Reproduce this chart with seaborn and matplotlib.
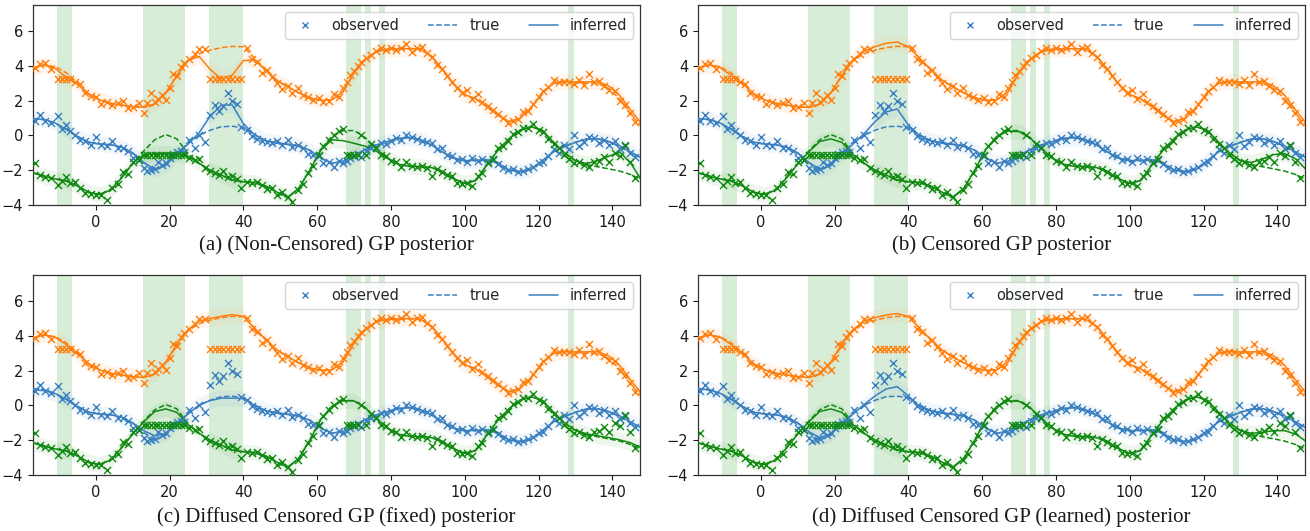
import numpy as np
import pandas as pd
import matplotlib
matplotlib.use("Agg")
import matplotlib.pyplot as plt
from matplotlib.lines import Line2D
import seaborn as sns

# ---------------- data ----------------
grid_x = [-17, -14, -11, -8, -5, -2, 1, 4, 7, 10, 13, 16, 19, 22, 25, 28, 31, 34, 37, 40,
          43, 46, 49, 52, 55, 58, 61, 64, 67, 70, 73, 76, 79, 82, 85, 88, 91, 94, 97, 100,
          103, 106, 109, 112, 115, 118, 121, 124, 127, 130, 133, 136, 139, 142, 145, 148]

orange_true = [3.88, 4.05, 3.95, 3.6, 3.05, 2.4, 2.05, 1.85, 1.75, 1.65,
               1.62, 1.8, 2.45, 3.45, 4.3, 4.7, 4.9, 5.05, 5.12, 5.1,
               4.45, 3.8, 3.2, 2.8, 2.45, 2.15, 2.02, 2.05, 2.5, 3.6,
               4.35, 4.82, 4.95, 4.95, 4.97, 4.95, 4.55, 3.8, 2.95, 2.35,
               2.1, 1.65, 1.15, 0.8, 0.97, 1.6, 2.45, 2.98, 3.1, 3.02,
               3.0, 3.0, 2.7, 2.1, 1.2, 0.5]
blue_true = [0.97, 0.9, 0.7, 0.35, -0.05, -0.38, -0.5, -0.53, -0.68, -1.0,
             -1.55, -2.0, -1.72, -1.05, -0.46, 0.0, 0.3, 0.5, 0.53, 0.44,
             0.05, -0.3, -0.45, -0.52, -0.62, -0.85, -1.3, -1.62, -1.48, -1.15,
             -0.82, -0.55, -0.35, -0.18, -0.12, -0.25, -0.55, -0.95, -1.33, -1.48,
             -1.43, -1.38, -1.55, -1.98, -2.09, -1.97, -1.5, -0.95, -0.62, -0.38,
             -0.2, -0.18, -0.35, -0.65, -1.0, -1.3]
green_true = [-2.15, -2.33, -2.5, -2.62, -2.9, -3.28, -3.4, -3.1, -2.4, -1.65,
              -0.9, -0.25, 0.05, -0.2, -1.05, -1.6, -2.0, -2.28, -2.57, -2.66,
              -2.72, -2.9, -3.25, -3.6, -3.05, -2.0, -0.8, -0.05, 0.28, 0.28,
              -0.12, -0.75, -1.3, -1.65, -1.78, -1.8, -1.85, -2.07, -2.5, -2.75,
              -2.6, -1.7, -0.85, -0.2, 0.3, 0.5, 0.3, -0.37, -1.0, -1.45,
              -1.68, -1.8, -1.92, -2.05, -2.25, -2.55]

# inferred posterior means, one per panel
orange_inf_a = [3.88, 4.05, 3.85, 3.35, 2.95, 2.4, 2.05, 1.85, 1.75, 1.65,
                1.62, 1.8, 2.45, 3.45, 4.3, 4.55, 3.8, 3.25, 3.46, 4.3,
                4.35, 3.75, 3.15, 2.8, 2.45, 2.15, 2.02, 2.05, 2.5, 3.6,
                4.35, 4.82, 4.95, 4.97, 5.0, 4.97, 4.55, 3.8, 2.95, 2.35,
                2.1, 1.65, 1.15, 0.8, 0.97, 1.6, 2.45, 3.0, 3.12, 3.08,
                3.08, 3.1, 2.85, 2.3, 1.45, 0.65]
orange_inf_b = [3.88, 4.05, 3.9, 3.45, 3.0, 2.4, 2.05, 1.85, 1.75, 1.65,
                1.6, 1.8, 2.45, 3.45, 4.35, 4.85, 5.1, 5.3, 5.37, 5.1,
                4.45, 3.8, 3.2, 2.8, 2.45, 2.15, 2.02, 2.05, 2.5, 3.6,
                4.35, 4.82, 4.95, 4.97, 5.0, 4.97, 4.55, 3.8, 2.95, 2.35,
                2.1, 1.65, 1.15, 0.8, 0.97, 1.6, 2.45, 3.0, 3.12, 3.08,
                3.08, 3.1, 2.85, 2.3, 1.45, 0.65]
orange_inf_c = [3.88, 4.05, 3.92, 3.5, 3.0, 2.4, 2.05, 1.85, 1.75, 1.65,
                1.6, 1.8, 2.5, 3.55, 4.35, 4.85, 5.0, 5.12, 5.22, 5.12,
                4.45, 3.8, 3.2, 2.8, 2.45, 2.15, 2.02, 2.05, 2.5, 3.6,
                4.35, 4.82, 4.95, 4.97, 5.0, 4.97, 4.55, 3.8, 2.95, 2.35,
                2.1, 1.65, 1.15, 0.8, 0.97, 1.6, 2.45, 3.0, 3.12, 3.08,
                3.08, 3.1, 2.85, 2.3, 1.45, 0.65]
orange_inf_d = [3.88, 4.05, 3.92, 3.5, 3.0, 2.4, 2.05, 1.85, 1.75, 1.65,
                1.6, 1.8, 2.5, 3.55, 4.35, 4.85, 5.05, 5.2, 5.28, 5.12,
                4.45, 3.8, 3.2, 2.8, 2.45, 2.15, 2.02, 2.05, 2.5, 3.6,
                4.35, 4.82, 4.95, 4.97, 5.0, 4.97, 4.55, 3.8, 2.95, 2.35,
                2.1, 1.65, 1.15, 0.8, 0.97, 1.6, 2.45, 3.0, 3.12, 3.08,
                3.08, 3.1, 2.85, 2.3, 1.45, 0.65]

blue_inf_a = [0.97, 0.92, 0.72, 0.35, -0.05, -0.38, -0.5, -0.53, -0.68, -1.0,
              -1.55, -1.95, -1.72, -1.05, -0.5, 0.15, 1.1, 1.74, 1.75, 0.68,
              0.05, -0.3, -0.42, -0.5, -0.6, -0.85, -1.3, -1.6, -1.48, -1.15,
              -0.82, -0.55, -0.35, -0.18, -0.12, -0.25, -0.55, -0.95, -1.3, -1.45,
              -1.43, -1.4, -1.6, -1.98, -2.07, -1.95, -1.45, -0.95, -0.65, -0.4,
              -0.22, -0.2, -0.35, -0.6, -0.95, -1.3]
blue_inf_b = [0.97, 0.92, 0.72, 0.35, -0.05, -0.38, -0.5, -0.53, -0.68, -1.0,
              -1.55, -1.95, -1.72, -1.05, -0.5, 0.1, 0.8, 1.35, 1.52, 0.6,
              0.0, -0.3, -0.42, -0.5, -0.6, -0.85, -1.3, -1.6, -1.48, -1.15,
              -0.82, -0.55, -0.35, -0.18, -0.12, -0.25, -0.55, -0.95, -1.3, -1.45,
              -1.43, -1.4, -1.6, -1.98, -2.07, -1.95, -1.45, -0.95, -0.65, -0.4,
              -0.22, -0.2, -0.35, -0.6, -0.95, -1.3]
blue_inf_c = [0.9, 0.85, 0.68, 0.35, -0.05, -0.38, -0.5, -0.53, -0.68, -1.0,
              -1.45, -1.75, -1.6, -1.05, -0.5, 0.02, 0.28, 0.42, 0.42, 0.4,
              0.0, -0.3, -0.42, -0.5, -0.6, -0.85, -1.3, -1.6, -1.48, -1.15,
              -0.82, -0.55, -0.35, -0.18, -0.12, -0.25, -0.55, -0.95, -1.3, -1.45,
              -1.43, -1.4, -1.6, -1.98, -2.07, -1.95, -1.45, -0.95, -0.65, -0.4,
              -0.22, -0.2, -0.35, -0.6, -0.95, -1.3]
blue_inf_d = [0.95, 0.9, 0.7, 0.35, -0.05, -0.38, -0.5, -0.53, -0.68, -1.0,
              -1.5, -1.85, -1.65, -1.05, -0.5, 0.05, 0.55, 0.95, 1.08, 0.55,
              -0.05, -0.3, -0.42, -0.5, -0.6, -0.85, -1.3, -1.6, -1.48, -1.15,
              -0.82, -0.55, -0.35, -0.18, -0.12, -0.25, -0.55, -0.95, -1.3, -1.45,
              -1.43, -1.4, -1.6, -1.98, -2.07, -1.95, -1.45, -0.95, -0.65, -0.4,
              -0.22, -0.2, -0.35, -0.6, -0.95, -1.3]

green_inf_a = [-2.15, -2.35, -2.5, -2.62, -2.9, -3.25, -3.4, -3.15, -2.45, -1.6,
               -1.1, -1.05, -1.03, -1.05, -1.2, -1.6, -2.0, -2.28, -2.57, -2.66,
               -2.72, -2.9, -3.25, -3.55, -3.05, -2.0, -0.85, -0.25, -0.3, -0.45,
               -0.62, -0.9, -1.3, -1.65, -1.78, -1.8, -1.85, -2.07, -2.5, -2.75,
               -2.6, -1.7, -0.85, -0.2, 0.3, 0.5, 0.3, -0.37, -1.0, -1.45,
               -1.62, -1.45, -1.2, -0.95, -1.6, -2.6]
green_inf_b = [-2.15, -2.35, -2.5, -2.62, -2.9, -3.25, -3.4, -3.15, -2.45, -1.65,
               -0.95, -0.35, -0.2, -0.4, -1.1, -1.6, -2.0, -2.28, -2.57, -2.66,
               -2.72, -2.9, -3.25, -3.55, -3.05, -2.0, -0.8, -0.05, 0.25, 0.22,
               -0.15, -0.75, -1.3, -1.65, -1.78, -1.8, -1.85, -2.07, -2.5, -2.75,
               -2.6, -1.7, -0.85, -0.2, 0.3, 0.5, 0.3, -0.37, -1.0, -1.45,
               -1.55, -1.35, -1.1, -1.05, -1.35, -2.0]
green_inf_c = [-2.15, -2.35, -2.5, -2.62, -2.9, -3.25, -3.4, -3.15, -2.45, -1.65,
               -0.95, -0.35, -0.2, -0.4, -1.1, -1.6, -2.0, -2.28, -2.57, -2.66,
               -2.72, -2.9, -3.25, -3.55, -3.05, -2.0, -0.8, -0.05, 0.28, 0.26,
               -0.12, -0.75, -1.3, -1.65, -1.78, -1.8, -1.85, -2.07, -2.5, -2.75,
               -2.6, -1.7, -0.85, -0.2, 0.3, 0.5, 0.3, -0.37, -1.0, -1.42,
               -1.63, -1.75, -1.85, -1.98, -2.15, -2.45]
green_inf_d = [-2.15, -2.35, -2.5, -2.62, -2.9, -3.25, -3.4, -3.15, -2.45, -1.65,
               -0.95, -0.35, -0.2, -0.4, -1.1, -1.6, -2.0, -2.28, -2.57, -2.66,
               -2.72, -2.9, -3.25, -3.55, -3.05, -2.0, -0.8, -0.05, 0.26, 0.24,
               -0.12, -0.75, -1.3, -1.65, -1.78, -1.8, -1.85, -2.07, -2.5, -2.75,
               -2.6, -1.7, -0.85, -0.2, 0.3, 0.5, 0.3, -0.37, -1.0, -1.45,
               -1.6, -1.55, -1.45, -1.45, -1.65, -2.1]

# observations (shared input locations)
obs_x = [-16.5, -15.2, -13.8, -12.1, -10.2, -9.1, -8.0, -7.0, -5.6, -4.3,
         -3.0, -1.4, 0.2, 1.5, 3.1, 4.4, 5.9, 7.5, 8.8, 10.1,
         11.8, 13.0, 14.0, 15.0, 16.0, 17.0, 18.0, 19.0, 20.0, 21.0,
         22.0, 23.0, 24.0, 25.4, 26.8, 28.1, 29.5, 31.0, 32.2, 33.4,
         34.6, 35.8, 37.0, 38.2, 39.4, 40.9, 42.3, 43.6, 45.1, 46.5,
         47.8, 49.2, 50.6, 52.0, 53.3, 54.8, 56.2, 57.5, 58.9, 60.4,
         61.7, 63.1, 64.5, 65.8, 67.0, 68.0, 69.0, 70.0, 71.0, 72.0,
         73.2, 74.6, 76.0, 77.3, 78.7, 80.1, 81.5, 82.8, 84.2, 85.6,
         87.0, 88.3, 89.7, 91.1, 92.5, 93.8, 95.2, 96.6, 98.0, 99.3,
         100.7, 102.1, 103.5, 104.8, 106.2, 107.6, 109.0, 110.3, 111.7, 113.1,
         114.5, 115.8, 117.2, 118.6, 120.0, 121.3, 122.7, 124.1, 125.5, 126.8,
         128.2, 129.6, 131.0, 132.3, 133.7, 135.1, 136.5, 137.8, 139.2, 140.6,
         142.0, 143.3, 144.7, 146.1]
orange_obs = [3.85, 4.12, 4.15, 3.8, 3.25, 3.25, 3.25, 3.25, 3.1, 2.95,
              2.45, 2.25, 2.2, 1.8, 1.95, 1.75, 1.85, 2.0, 1.6, 1.65,
              1.85, 1.3, 1.85, 2.45, 1.9, 2.1, 2.3, 2.05, 2.7, 3.55,
              3.4, 3.95, 4.15, 4.4, 4.7, 4.95, 4.95, 3.25, 3.25, 3.25,
              3.25, 3.25, 3.25, 3.25, 3.25, 5.05, 4.4, 4.2, 3.6, 3.75,
              3.35, 3.0, 2.65, 2.85, 2.45, 2.7, 2.3, 2.2, 2.05, 2.15,
              1.95, 2.0, 2.4, 2.2, 2.75, 3.05, 3.5, 3.7, 4.0, 4.2,
              4.45, 4.6, 4.85, 5.0, 4.9, 5.0, 4.9, 5.05, 5.25, 4.8,
              5.0, 5.1, 4.75, 4.5, 4.05, 3.8, 3.4, 3.05, 2.7, 2.45,
              2.6, 2.1, 2.4, 1.9, 1.7, 1.45, 1.25, 1.0, 0.7, 0.85,
              0.95, 1.35, 1.4, 1.8, 2.2, 2.55, 2.8, 3.2, 3.1, 3.05,
              3.1, 2.95, 3.2, 2.9, 3.55, 3.1, 3.15, 2.85, 2.6, 2.55,
              2.0, 1.75, 1.3, 0.75]
blue_obs = [0.85, 1.2, 0.85, 0.7, 1.1, 0.35, 0.6, 0.25, 0.0, -0.25,
            -0.3, -0.55, -0.1, -0.55, -0.6, -0.3, -0.75, -0.7, -0.9, -1.3,
            -1.4, -1.85, -2.05, -2.0, -1.95, -1.5, -1.7, -1.6, -1.3, -1.05,
            -0.95, -0.9, -0.95, -0.25, -0.7, 0.05, -0.35, 1.2, 1.75, 1.4,
            1.7, 2.45, 2.0, 1.8, 0.5, 0.3, -0.05, -0.2, -0.3, -0.4,
            -0.45, -0.3, -0.55, -0.25, -0.65, -0.55, -0.7, -1.05, -1.1, -1.2,
            -1.6, -1.5, -1.8, -1.45, -1.6, -1.45, -1.3, -1.2, -1.05, -1.25,
            -0.9, -0.7, -0.65, -0.45, -0.5, -0.3, -0.15, -0.25, 0.0, -0.1,
            -0.2, -0.3, -0.35, -0.45, -0.8, -0.75, -1.1, -1.2, -1.4, -1.35,
            -1.55, -1.3, -1.45, -1.35, -1.5, -1.4, -1.65, -1.85, -2.0, -1.95,
            -2.1, -2.05, -1.95, -1.8, -1.6, -1.5, -1.2, -0.8, -1.0, -0.55,
            -0.8, 0.05, -0.6, -0.4, -0.1, -0.15, -0.45, -0.25, -0.55, -0.3,
            -0.8, -0.6, -1.0, -1.25]
green_obs = [-1.6, -2.3, -2.4, -2.45, -2.85, -2.6, -2.4, -2.75, -2.7, -3.05,
             -3.3, -3.35, -3.45, -3.4, -3.7, -3.05, -2.8, -2.1, -2.2, -1.55,
             -1.4, -1.1, -1.1, -1.1, -1.1, -1.1, -1.1, -1.1, -1.1, -1.1,
             -1.1, -1.1, -1.1, -1.3, -1.4, -1.35, -1.85, -2.05, -2.15, -2.25,
             -2.05, -2.4, -2.35, -2.5, -3.0, -2.7, -2.75, -2.65, -2.85, -3.1,
             -3.05, -3.45, -3.25, -3.55, -3.85, -3.15, -2.8, -2.15, -1.75, -1.1,
             -0.6, -0.25, 0.05, 0.25, 0.35, -1.1, -1.1, -1.1, -1.1, 0.05,
             -1.1, -0.5, -0.7, -1.1, -1.2, -1.45, -1.55, -1.8, -1.55, -1.75,
             -1.8, -1.75, -1.85, -2.35, -1.95, -2.1, -2.3, -2.35, -2.75, -2.8,
             -2.75, -2.9, -2.35, -2.15, -1.6, -1.35, -0.75, -0.6, -0.3, 0.1,
             0.2, 0.45, 0.4, 0.65, 0.3, 0.2, -0.2, -0.5, -0.75, -1.1,
             -1.35, -1.6, -1.55, -1.7, -1.8, -1.5, -1.45, -1.25, -1.55, -1.0,
             -1.2, -0.55, -1.5, -2.45]

censor_spans = [(-10.5, -6.5), (12.7, 24.3), (30.7, 39.8), (67.8, 71.8),
                (73.0, 74.5), (76.8, 78.3), (128.1, 129.7)]
posterior_sd = 0.45

captions = ["(a) (Non-Censored) GP posterior", "(b) Censored GP posterior",
            "(c) Diffused Censored GP (fixed) posterior",
            "(d) Diffused Censored GP (learned) posterior"]
legend_labels = ["observed", "true", "inferred"]
xticks = [0, 20, 40, 60, 80, 100, 120, 140]
yticks = [-4, -2, 0, 2, 4, 6]

# ---------------- style ----------------
sns.set_theme(style="ticks")
plt.rcParams["font.family"] = ["DejaVu Sans"]
plt.rcParams["axes.unicode_minus"] = True

C_OR = "#ff7f0e"
C_BL = "#3a80c0"
C_GR = "#108a10"

series = [
    (C_OR, orange_true, [orange_inf_a, orange_inf_b, orange_inf_c, orange_inf_d], orange_obs),
    (C_BL, blue_true, [blue_inf_a, blue_inf_b, blue_inf_c, blue_inf_d], blue_obs),
    (C_GR, green_true, [green_inf_a, green_inf_b, green_inf_c, green_inf_d], green_obs),
]

W, H = 1310, 531
fig = plt.figure(figsize=(W / 100, H / 100), dpi=100)
panel_px = [(33, 5), (698, 5), (33, 275), (698, 275)]
aw, ah = 607, 200
gx = np.array(grid_x, dtype=float)

for p, (lx, ty) in enumerate(panel_px):
    ax = fig.add_axes([lx / W, 1 - (ty + ah) / H, aw / W, ah / H])
    for a, b in censor_spans:
        ax.axvspan(a, b, color="#2ca02c", alpha=0.18, lw=0, zorder=0)
    for color, true_v, infs, obs_v in series:
        inf = np.array(infs[p], dtype=float)
        ax.fill_between(gx, inf - posterior_sd, inf + posterior_sd, color=color,
                        alpha=0.07, lw=0, zorder=1)
        sns.lineplot(x=grid_x, y=true_v, ax=ax, color=color, lw=1.1,
                     linestyle="--", estimator=None, sort=False, zorder=3)
        sns.lineplot(x=grid_x, y=infs[p], ax=ax, color=color, lw=1.1,
                     estimator=None, sort=False, zorder=3)
        sns.scatterplot(x=obs_x, y=obs_v, ax=ax, color=color, marker="x",
                        s=26, linewidth=1.0, zorder=4)
    ax.set_xlim(-17, 147.5)
    ax.set_ylim(-4, 7.5)
    ax.set_xticks(xticks)
    ax.set_yticks(yticks)
    ax.tick_params(labelsize=10.5, length=3.5, width=0.8, colors="0.1")
    for s in ax.spines.values():
        s.set_color("0.2")
        s.set_linewidth(0.9)
    handles = [Line2D([], [], color=C_BL, marker="x", linestyle="none", markersize=5),
               Line2D([], [], color=C_BL, linestyle="--", lw=1.1),
               Line2D([], [], color=C_BL, lw=1.1)]
    ax.legend(handles, legend_labels, loc="upper right", ncol=3, fontsize=10.5,
              frameon=True, framealpha=0.8, edgecolor="0.8", fancybox=True)
    cx = (lx + aw / 2) / W
    cy = 1 - (245 if p < 2 else 517) / H
    fig.text(cx, cy, captions[p], ha="center", va="center",
             family=["Liberation Serif", "DejaVu Serif"], fontsize=15, color="0.1")

fig.savefig("out.png", dpi=100)
